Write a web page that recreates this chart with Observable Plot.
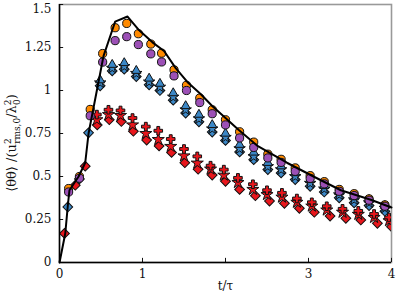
<!DOCTYPE html>
<html>
<head>
<meta charset="utf-8">
<script src="https://cdn.jsdelivr.net/npm/d3@7"></script>
<script src="https://cdn.jsdelivr.net/npm/@observablehq/plot@0.6"></script>
<style>
  html, body { margin: 0; padding: 0; background: #fff; }
  #chart { width: 415px; height: 297px; }
</style>
</head>
<body>
<div id="chart"></div>
<script>
// ---- data ----
const lineT = [0, 0.07, 0.10, 0.12, 0.23, 0.31, 0.35, 0.45, 0.53, 0.67, 0.82, 0.96, 1.12, 1.26, 1.40, 1.54, 1.70, 1.84, 2.00, 2.16, 2.38, 2.74, 3.06, 3.39, 3.75, 4.0];
const lineV = [0, 0.17, 0.33, 0.42, 0.50, 0.58, 0.75, 1.00, 1.20, 1.40, 1.43, 1.35, 1.28, 1.23, 1.13, 1.05, 0.98, 0.91, 0.84, 0.77, 0.68, 0.58, 0.50, 0.42, 0.365, 0.32];

const circT = [0.11, 0.24, 0.37, 0.52, 0.67, 0.81, 0.95, 1.10, 1.23, 1.38, 1.53, 1.69, 1.84, 2.00, 2.17, 2.34, 2.51, 2.67, 2.84, 3.02, 3.19, 3.37, 3.55, 3.73, 3.92];
const orangeV = [0.43, 0.50, 0.89, 1.215, 1.365, 1.39, 1.33, 1.27, 1.217, 1.12, 1.03, 0.956, 0.888, 0.83, 0.76, 0.70, 0.63, 0.60, 0.55, 0.505, 0.47, 0.425, 0.40, 0.37, 0.335];
const purpleV = [0.41, 0.49, 0.853, 1.165, 1.29, 1.313, 1.267, 1.213, 1.166, 1.085, 1.0, 0.93, 0.865, 0.80, 0.724, 0.669, 0.608, 0.582, 0.53, 0.489, 0.457, 0.414, 0.389, 0.362, 0.327];

const blueDiamT = [0.10, 0.24, 0.35, 0.49, 0.635, 0.78, 0.925, 1.08, 1.21, 1.37, 1.52, 1.68, 1.84, 2.0, 2.17, 2.34, 2.51, 2.67, 2.84, 3.02, 3.19, 3.37, 3.55, 3.73, 3.92];
const blueDiamV = [0.323, 0.486, 0.754, 1.027, 1.114, 1.124, 1.081, 1.033, 1.0, 0.944, 0.869, 0.818, 0.758, 0.71, 0.643, 0.598, 0.54, 0.521, 0.482, 0.443, 0.41, 0.376, 0.347, 0.331, 0.298];
const blueTopT = [0.49, 0.635, 0.78, 0.925, 1.08, 1.21, 1.37, 1.52, 1.68, 1.84, 2.0, 2.17, 2.34, 2.51, 2.67, 2.84, 3.02, 3.19, 3.37, 3.55, 3.73, 3.92];
const blueTriV = [1.06, 1.15, 1.16, 1.115, 1.07, 1.04, 0.985, 0.91, 0.86, 0.80, 0.75, 0.685, 0.64, 0.58, 0.56, 0.52, 0.48, 0.445, 0.41, 0.38, 0.365, 0.33];
const blueStarV = [1.045, 1.13, 1.14, 1.10, 1.05, 1.02, 0.962, 0.888, 0.836, 0.777, 0.728, 0.662, 0.616, 0.558, 0.54, 0.50, 0.461, 0.428, 0.394, 0.365, 0.348, 0.316];

const redDiamT = [0.06, 0.19, 0.31, 0.455, 0.60, 0.745, 0.89, 1.05, 1.20, 1.35, 1.51, 1.67, 1.84, 2.0, 2.17, 2.36, 2.53, 2.71, 2.89, 3.07, 3.26, 3.45, 3.63, 3.83, 4.0];
const redDiamV = [0.169, 0.449, 0.56, 0.80, 0.83, 0.82, 0.763, 0.712, 0.678, 0.64, 0.58, 0.542, 0.508, 0.472, 0.425, 0.388, 0.357, 0.344, 0.315, 0.292, 0.27, 0.257, 0.247, 0.228, 0.208];
const redTopT = [0.45, 0.59, 0.735, 0.88, 1.04, 1.19, 1.34, 1.50, 1.66, 1.82, 1.98, 2.15, 2.33, 2.50, 2.68, 2.86, 3.04, 3.22, 3.41, 3.60, 3.79, 3.97];
const redStarV = [0.83, 0.86, 0.855, 0.80, 0.75, 0.715, 0.675, 0.62, 0.578, 0.543, 0.508, 0.465, 0.425, 0.395, 0.38, 0.35, 0.328, 0.305, 0.292, 0.28, 0.262, 0.243];
const redPlusV = [0.86, 0.888, 0.884, 0.84, 0.79, 0.766, 0.718, 0.66, 0.617, 0.563, 0.54, 0.492, 0.455, 0.42, 0.405, 0.372, 0.35, 0.327, 0.312, 0.30, 0.282, 0.262];

const xTicks = [0, 1, 2, 3, 4];
const xTickLabels = ["0", "1", "", "3", "4"];
const yTicks = [0, 0.25, 0.5, 0.75, 1, 1.25, 1.5];
const yTickLabels = ["0", "0.25", "0.5", "0.75", "1", "1.25", "1.5"];

// ---- build tables ----
const zip = (ts, vs) => ts.map((t, i) => ({t, v: vs[i]}));
const lineData = zip(lineT, lineV);
const orange = zip(circT, orangeV);
const purple = zip(circT, purpleV);
const blueDiam = zip(blueDiamT, blueDiamV);
const blueTri = zip(blueTopT, blueTriV);
const blueStar = zip(blueTopT, blueStarV);
const redDiam = zip(redDiamT, redDiamV);
const redStar = zip(redTopT, redStarV);
const redPlus = zip(redTopT, redPlusV);
const yLab = yTicks.map((y, i) => ({y, label: yTickLabels[i]}));
const yLabLow = yLab.filter((d) => d.y < 1.5);
const yLabTop = yLab.filter((d) => d.y === 1.5);

const C_ORANGE = "#ff8a00", C_PURPLE = "#9c50b6", C_BLUE = "#3b87c6", C_RED = "#e8161c";
const FONT = "DejaVu Serif";
const mk = {x: "t", y: "v", stroke: "#111", strokeWidth: 1, clip: true};

const chart = Plot.plot({
  width: 415,
  height: 297,
  marginLeft: 59,
  marginRight: 24,
  marginTop: 4,
  marginBottom: 35,
  style: {fontFamily: FONT, fontSize: "12px", background: "#fff", color: "#111"},
  x: {domain: [0, 4]},
  y: {domain: [0, 1.5], axis: null},
  marks: [
    Plot.frame({stroke: "#999", strokeWidth: 1.6}),
    Plot.axisX({ticks: xTicks, tickSize: 0, tickPadding: 7, tickFormat: (d) => xTickLabels[xTicks.indexOf(d)], label: null, fontSize: 12}),
    Plot.text(yLabLow, {x: 0, y: "y", text: "label", dx: -8, textAnchor: "end", fontSize: 12, fontFamily: FONT, fill: "#111"}),
    Plot.text(yLabTop, {x: 0, y: "y", text: "label", dx: -8, dy: 5, textAnchor: "end", fontSize: 12, fontFamily: FONT, fill: "#111"}),
    Plot.ruleX(xTicks, {x: (d) => d, y1: 0, y2: 0.024, stroke: "#111", strokeWidth: 1}),
    Plot.ruleY(yTicks, {y: (d) => d, x1: 0, x2: 0.05, stroke: "#111", strokeWidth: 1}),
    Plot.dot(redDiam, {...mk, symbol: "square", rotate: 45, r: 3.9, fill: C_RED}),
    Plot.dot(redStar, {...mk, symbol: "star", r: 3.8, fill: C_RED}),
    Plot.dot(redPlus, {...mk, symbol: "cross", r: 3.6, fill: C_RED}),
    Plot.dot(blueDiam, {...mk, symbol: "square", rotate: 45, r: 3.9, fill: C_BLUE}),
    Plot.dot(blueStar, {...mk, symbol: "star", r: 3.6, fill: C_BLUE}),
    Plot.dot(blueTri, {...mk, symbol: "triangle", r: 3.4, fill: C_BLUE}),
    Plot.dot(orange, {...mk, symbol: "circle", r: 4.1, fill: C_ORANGE}),
    Plot.dot(purple, {...mk, symbol: "circle", r: 4.1, fill: C_PURPLE}),
    Plot.line(lineData, {x: "t", y: "v", stroke: "#000", strokeWidth: 2, curve: "linear"}),
    Plot.ruleX([0], {stroke: "#000", strokeWidth: 1.5}),
    Plot.ruleY([0], {stroke: "#000", strokeWidth: 1.5}),
    Plot.text(["t/τ"], {frameAnchor: "bottom", dy: 27, fontSize: 12, fontFamily: FONT, fill: "#111"})
  ]
});

document.getElementById("chart").appendChild(chart);

// y-axis label with super/subscripts
const svg = d3.select(chart.tagName.toLowerCase() === "svg" ? chart : chart.querySelector("svg"));
const lab = svg.append("text")
  .attr("transform", "translate(16,143) rotate(-90)")
  .attr("text-anchor", "middle")
  .attr("font-family", FONT)
  .attr("font-size", 13)
  .attr("fill", "#111");
lab.append("tspan").text("⟨θθ⟩ /(u");
lab.append("tspan").attr("font-size", 9).attr("dy", -5).text("2");
lab.append("tspan").attr("font-size", 9).attr("dx", -5.5).attr("dy", 9).text("rms,0");
lab.append("tspan").attr("font-size", 13).attr("dy", -4).text("/λ");
lab.append("tspan").attr("font-size", 9).attr("dy", -5).text("2");
lab.append("tspan").attr("font-size", 9).attr("dx", -5.5).attr("dy", 9).text("0");
lab.append("tspan").attr("font-size", 13).attr("dy", -4).text(")");
</script>
</body>
</html>
